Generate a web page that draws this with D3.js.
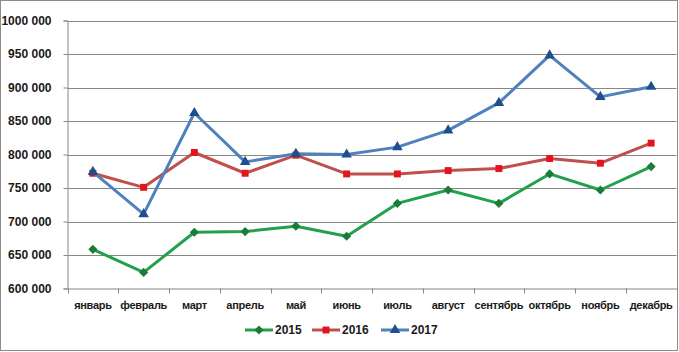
<!DOCTYPE html>
<html>
<head>
<meta charset="utf-8">
<script src="https://d3js.org/d3.v7.min.js"></script>
<style>
  body { margin: 0; background: #fff; }
  text { font-family: "Liberation Sans", Arial, sans-serif; font-weight: bold; fill: #1a1a1a; }
</style>
</head>
<body>
<div id="chart"></div>
<script>
  const months = ["январь", "февраль", "март", "апрель", "май", "июнь", "июль", "август", "сентябрь", "октябрь", "ноябрь", "декабрь"];
  const values2015 = [658500, 624000, 684000, 685000, 693000, 678000, 727000, 747000, 727000, 771000, 747000, 782000];
  const values2016 = [772000, 751000, 803000, 772000, 799000, 771000, 771000, 776000, 779000, 794000, 787000, 817000];
  const values2017 = [774000, 711000, 862000, 789000, 801000, 800000, 811000, 836000, 877000, 948000, 886000, 901000];
  const yTicks = [600000, 650000, 700000, 750000, 800000, 850000, 900000, 950000, 1000000];

  const width = 679, height = 352;
  const margin = { top: 20.5, bottom: 63.5, left: 67.5, right: 2.5 };

  // square diamond (rotated square), as in the original
  const diamond = {
    draw(ctx, size) {
      const r = Math.sqrt(size / 2);
      ctx.moveTo(0, -r); ctx.lineTo(r, 0); ctx.lineTo(0, r); ctx.lineTo(-r, 0); ctx.closePath();
    }
  };

  const series = [
    { name: "2015", values: values2015, line: "#22a04b", marker: "#1b7c3a", shape: diamond, size: 42 },
    { name: "2016", values: values2016, line: "#c0504d", marker: "#e4141c", shape: d3.symbolSquare, size: 48 },
    { name: "2017", values: values2017, line: "#4f81bd", marker: "#1f4e8c", shape: d3.symbolTriangle, size: 48 }
  ];

  const svg = d3.select("#chart").append("svg")
    .attr("width", width).attr("height", height);

  // outer frame
  svg.append("rect")
    .attr("x", 0.5).attr("y", 0.5)
    .attr("width", width - 2).attr("height", height - 2)
    .attr("fill", "none").attr("stroke", "#8c8c8c");

  const xScale = d3.scaleBand().domain(months)
    .range([margin.left, width - margin.right]);
  const yScale = d3.scaleLinear().domain([600000, 1000000])
    .range([height - margin.bottom, margin.top]);

  const fmt = v => {
    const s = String(v);
    return s.slice(0, s.length - 3) + " " + s.slice(-3);
  };

  // gridlines
  svg.append("g").selectAll("line")
    .data(yTicks.slice(1))
    .join("line")
    .attr("x1", margin.left).attr("x2", width - margin.right)
    .attr("y1", d => Math.round(yScale(d)) + 0.5)
    .attr("y2", d => Math.round(yScale(d)) + 0.5)
    .attr("stroke", "#868686");

  // y axis
  const yAxis = svg.append("g")
    .attr("transform", "translate(" + margin.left + ",0)")
    .call(d3.axisLeft(yScale).tickValues(yTicks).tickFormat(fmt).tickSize(4).tickPadding(12));
  yAxis.select(".domain").attr("stroke", "#868686");
  yAxis.selectAll(".tick line").attr("stroke", "#868686");
  yAxis.selectAll(".tick text").attr("font-size", 12).attr("font-family", null).attr("fill", "#1a1a1a");

  // x axis
  const xAxis = svg.append("g")
    .attr("transform", "translate(0," + (height - margin.bottom) + ")")
    .call(d3.axisBottom(xScale).tickSize(0).tickPadding(13));
  xAxis.select(".domain").attr("stroke", "#868686");
  xAxis.selectAll(".tick text").attr("font-size", 11).attr("letter-spacing", -0.3)
    .attr("font-family", null).attr("fill", "#1a1a1a");
  xAxis.selectAll(".sep")
    .data(months.map(m => xScale(m)).concat([width - margin.right]))
    .join("line")
    .attr("x1", d => Math.round(d) + 0.5).attr("x2", d => Math.round(d) + 0.5)
    .attr("y1", 0).attr("y2", 5)
    .attr("stroke", "#868686");

  const lineGen = d3.line()
    .x((d, i) => xScale(months[i]) + xScale.bandwidth() / 2)
    .y(d => yScale(d));

  series.forEach(s => {
    svg.append("path")
      .datum(s.values)
      .attr("d", lineGen)
      .attr("fill", "none")
      .attr("stroke", s.line)
      .attr("stroke-width", 3)
      .attr("stroke-linejoin", "round");
    svg.append("g").selectAll("path")
      .data(s.values)
      .join("path")
      .attr("transform", (d, i) => "translate(" + (xScale(months[i]) + xScale.bandwidth() / 2) + "," + yScale(d) + ")")
      .attr("d", d3.symbol().type(s.shape).size(s.size))
      .attr("fill", s.marker);
  });

  // legend
  const legendX = [245, 312, 381];
  const legendY = 330;
  series.forEach((s, i) => {
    const g = svg.append("g").attr("transform", "translate(" + legendX[i] + "," + legendY + ")");
    g.append("line").attr("x1", 0).attr("x2", 28).attr("y1", 0).attr("y2", 0)
      .attr("stroke", s.line).attr("stroke-width", 3);
    g.append("path").attr("transform", "translate(14,0)")
      .attr("d", d3.symbol().type(s.shape).size(s.size)).attr("fill", s.marker);
    g.append("text").attr("x", 30).attr("y", 0).attr("dy", "0.36em")
      .attr("font-size", 12).text(s.name);
  });
</script>
</body>
</html>
